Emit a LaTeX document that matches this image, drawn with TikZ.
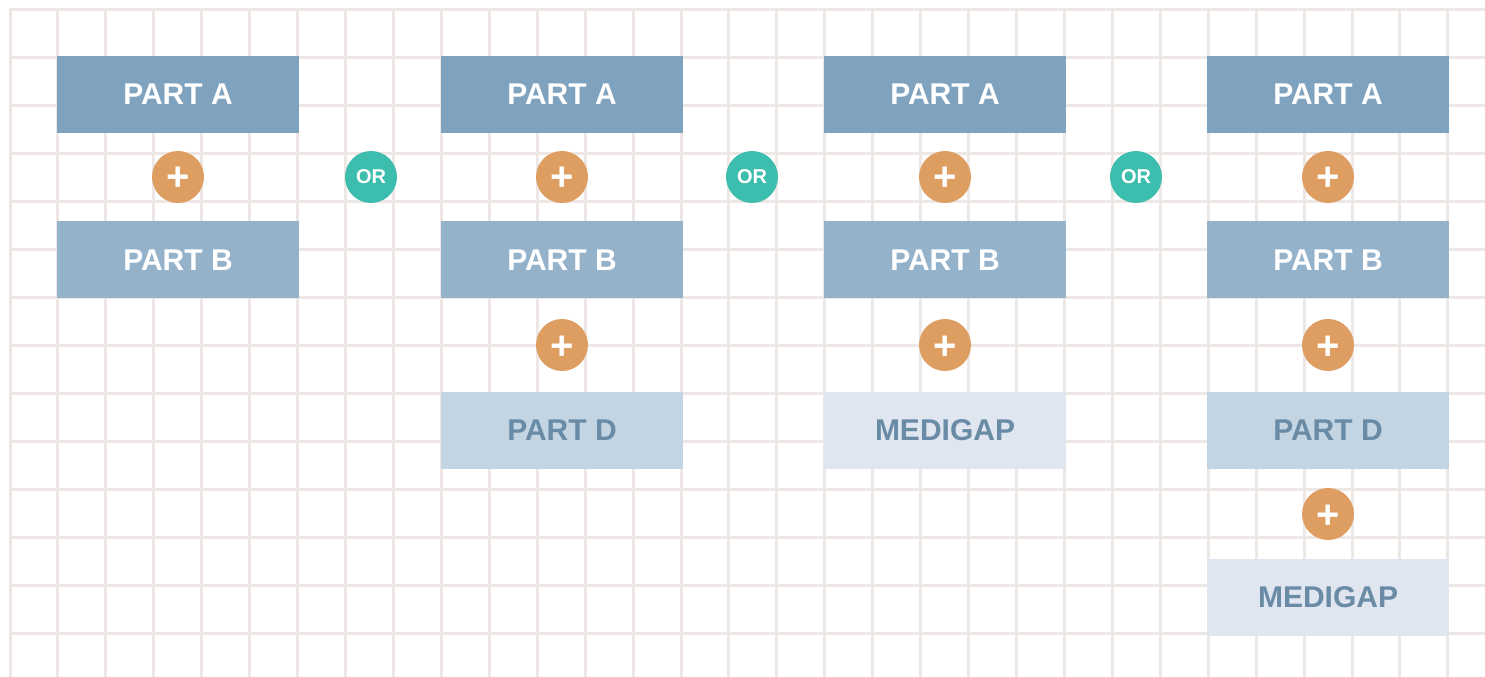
\documentclass[tikz,border=0pt]{standalone}
\usepackage{fontspec}
\setmainfont{Liberation Sans}
\definecolor{cuadro}{HTML}{EDE7E5}
\definecolor{azulA}{HTML}{7FA2BF}
\definecolor{azulB}{HTML}{95B2CB}
\definecolor{azulD}{HTML}{C3D5E3}
\definecolor{azulG}{HTML}{DFE6EF}
\definecolor{textoD}{HTML}{6A8BA6}
\definecolor{naranja}{HTML}{DE9D61}
\definecolor{verde}{HTML}{3DBDAE}

\begin{document}
\begin{tikzpicture}[x=0.75pt,y=-0.75pt,every node/.style={align=center},
    caja/.style={minimum width=181.5pt,minimum height=57.75pt,inner sep=0pt,
      font=\fontsize{22.5}{27}\selectfont\bfseries},
    cajaA/.style={caja,fill=azulA,text=white},
    cajaB/.style={caja,fill=azulB,text=white},
    cajaD/.style={caja,fill=azulD,text=textoD},
    cajaG/.style={caja,fill=azulG,text=textoD},
    mas/.style={circle,fill=naranja,text=white,minimum size=39pt,inner sep=0pt,
      text height=21pt,text depth=0pt,font=\fontsize{30}{30}\selectfont\bfseries},
    oo/.style={circle,fill=verde,text=white,minimum size=39pt,inner sep=0pt,
      font=\fontsize{15}{15}\selectfont\bfseries}]
    \useasboundingbox (0,0) rectangle (1485,677);
    % cuadricula
    \foreach \i in {0,...,30}
      \draw[cuadro,line width=2.25pt] ({10+47.93*\i},8.5) -- ({10+47.93*\i},677);
    \foreach \j in {0,...,13}
      \draw[cuadro,line width=2.25pt] (8.5,{10+47.93*\j}) -- (1485,{10+47.93*\j});
    % partes A y B
    \foreach \x/\n in {178/1,562/2,945/3,1328/4}{
      \node[cajaA] (a\n) at (\x,94.5) {PART A};
      \node[mas] (pa\n) at (\x,177) {+};
      \node[cajaB] (b\n) at (\x,260) {PART B};
    }
    % opciones
    \node[oo] (or1) at (371,177) {OR};
    \node[oo] (or2) at (752,177) {OR};
    \node[oo] (or3) at (1136,177) {OR};
    % segunda fila
    \node[mas] (pb2) at (562,345) {+};
    \node[cajaD] (d2) at (562,430) {PART D};
    \node[mas] (pb3) at (945,345) {+};
    \node[cajaG] (g3) at (945,430) {MEDIGAP};
    \node[mas] (pb4) at (1328,345) {+};
    \node[cajaD] (d4) at (1328,430) {PART D};
    \node[mas] (pd4) at (1328,514) {+};
    \node[cajaG] (g4) at (1328,597) {MEDIGAP};
\end{tikzpicture}
\end{document}
